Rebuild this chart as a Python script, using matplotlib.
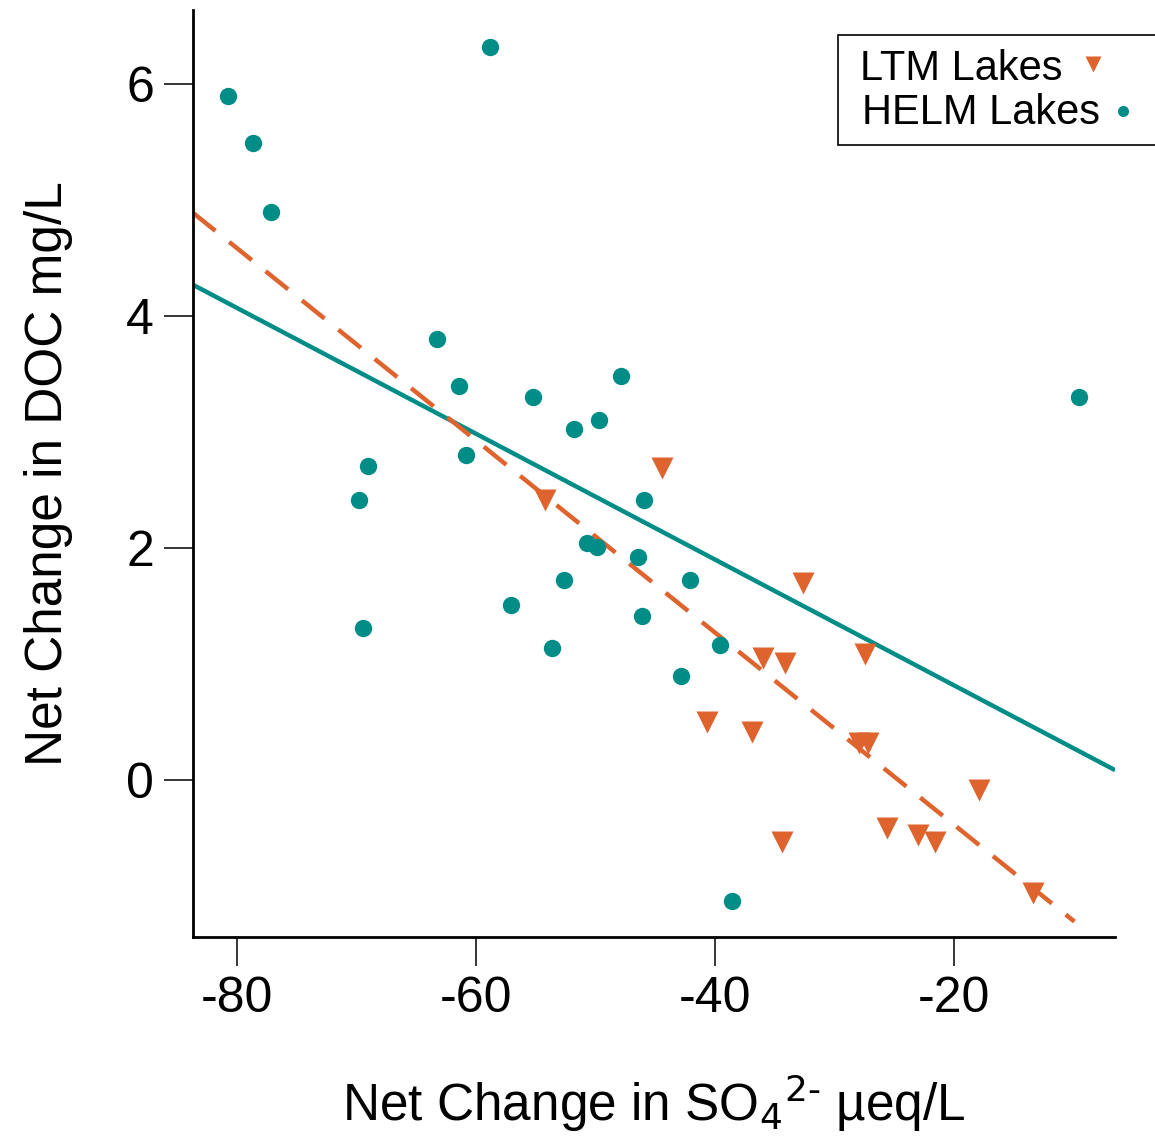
import matplotlib
matplotlib.use("Agg")
import matplotlib.pyplot as plt
from matplotlib.patches import Rectangle
from matplotlib.lines import Line2D
import numpy as np

plt.rcParams['font.family'] = ['Liberation Sans', 'DejaVu Sans']

# HELM Lakes (teal circles)
helm_so4 = [-80.75, -78.7, -77.2, -58.8, -63.3, -61.4, -60.8, -69.0, -69.8, -69.5,
            -55.2, -51.8, -49.7, -47.9, -45.9, -50.7, -49.9, -46.4, -52.6, -57.1,
            -42.1, -46.1, -53.6, -39.6, -42.8, -38.6, -9.5]
helm_doc = [5.90, 5.49, 4.90, 6.32, 3.80, 3.40, 2.80, 2.71, 2.41, 1.31,
            3.30, 3.03, 3.10, 3.48, 2.41, 2.04, 2.01, 1.92, 1.72, 1.51,
            1.72, 1.41, 1.14, 1.16, 0.90, -1.04, 3.30]

# LTM Lakes (orange triangles)
ltm_so4 = [-44.4, -54.2, -32.6, -36.0, -34.1, -27.4, -40.7, -36.9, -27.9, -27.2,
           -17.9, -25.6, -23.0, -21.6, -34.4, -13.4]
ltm_doc = [2.69, 2.41, 1.70, 1.05, 1.01, 1.09, 0.50, 0.41, 0.32, 0.32,
           -0.09, -0.41, -0.47, -0.53, -0.53, -0.97]

# Fitted regression lines (intercept, slope) and x-extent
helm_fit = (-0.267, -0.0542)
helm_fit_x = [-83.7, -6.5]
ltm_fit = (-2.04, -0.0828)
ltm_fit_x = [-83.7, -9.9]

xticks = [-80, -60, -40, -20]
yticks = [0, 2, 4, 6]
legend_labels = ['LTM Lakes', 'HELM Lakes']

teal = "#008C87"
orange = "#DE632D"

W, H = 1155, 1136
fig = plt.figure(figsize=(W / 100, H / 100), dpi=100)
ax = fig.add_axes([0.167, 0.1752, 0.9654 - 0.167, 0.9912 - 0.1752])

hx = np.array(helm_fit_x)
ax.plot(hx, helm_fit[0] + helm_fit[1] * hx, color=teal, lw=3.2, solid_capstyle='butt', zorder=2)
lx = np.array(ltm_fit_x)
ax.plot(lx, ltm_fit[0] + ltm_fit[1] * lx, color=orange, lw=3.2, dashes=(6.5, 4.0), zorder=2)

ax.plot(ltm_so4, ltm_doc, linestyle='none', marker='v', ms=15.5, color=orange,
        mec='none', zorder=3)
ax.plot(helm_so4, helm_doc, linestyle='none', marker='o', ms=12.5, color=teal,
        mec='none', zorder=3)

ax.set_xlim(-83.7, -6.5)
ax.set_ylim(-1.353, 6.638)
ax.set_xticks(xticks)
ax.set_xticklabels([str(t) for t in xticks])
ax.set_yticks(yticks)
ax.set_yticklabels([str(t) for t in yticks])

for s in ['top', 'right']:
    ax.spines[s].set_visible(False)
for s in ['left', 'bottom']:
    ax.spines[s].set_linewidth(2.0)

ax.tick_params(axis='both', direction='out', length=21, width=1.1, labelsize=36, pad=7)

ax.set_xlabel('Net Change in SO$_4$$^{2\\text{-}}$ µeq/L', fontsize=37, labelpad=36)
ax.set_ylabel('Net Change in DOC mg/L', fontsize=37, labelpad=38)

# Manual legend: left-aligned text, marker right after each label
def fx(px):
    return px / W

def fy(py):
    return 1 - py / H

fig.patches.append(Rectangle((fx(838), fy(145)), fx(1170) - fx(838), (145 - 35) / H,
                             transform=fig.transFigure, facecolor='white',
                             edgecolor='black', linewidth=1.2, zorder=5))
t1 = fig.text(fx(860), fy(80), legend_labels[0], fontsize=30, ha='left', va='baseline', zorder=6)
t2 = fig.text(fx(862), fy(124), legend_labels[1], fontsize=30, ha='left', va='baseline', zorder=6)
fig.canvas.draw()
r = fig.canvas.get_renderer()
b1 = t1.get_window_extent(r)
b2 = t2.get_window_extent(r)
fig.lines.append(Line2D([(b1.x1 + 30) / W], [fy(64)], transform=fig.transFigure,
                        marker='v', ms=11, color=orange, mec='none', linestyle='none', zorder=7))
fig.lines.append(Line2D([(b2.x1 + 23) / W], [fy(111)], transform=fig.transFigure,
                        marker='o', ms=8, color=teal, mec='none', linestyle='none', zorder=7))

fig.savefig("out.png", dpi=100)
